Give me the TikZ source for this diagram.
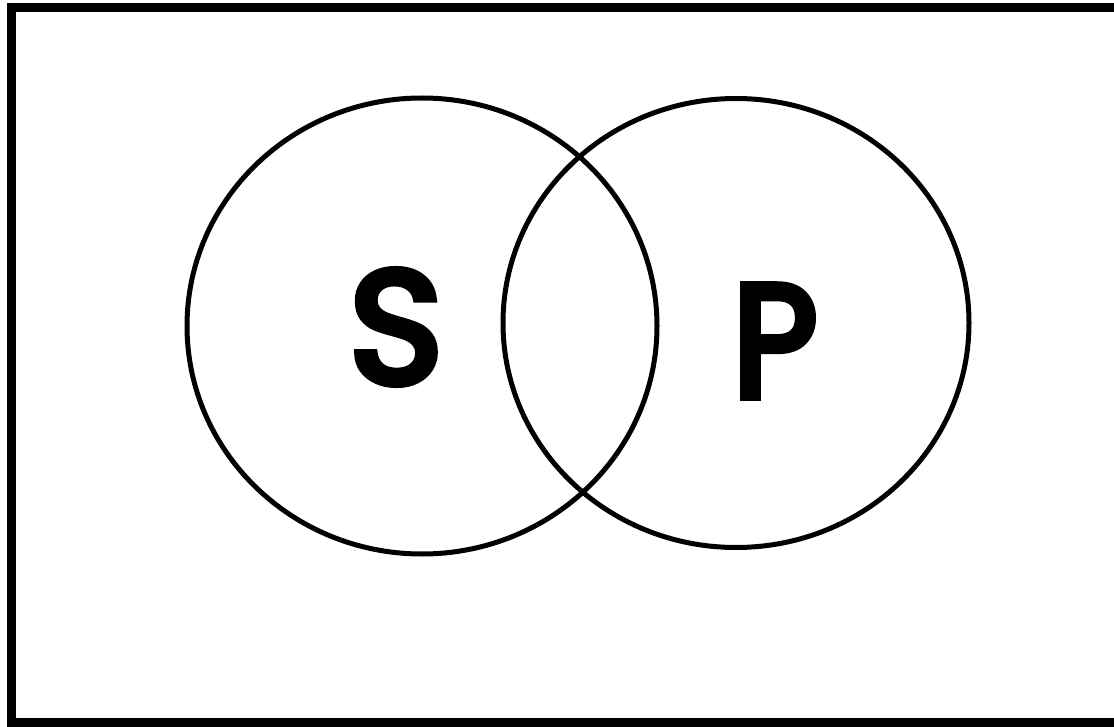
\documentclass[tikz,border=0pt]{standalone}
\usepackage{fontspec}
\setmainfont{Poppins}
\newfontfamily\setfont[FakeBold=5]{Poppins}
\usepackage{tikz}
\usetikzlibrary{shapes.geometric}

\begin{document}
\begin{tikzpicture}[
  x=1pt,y=-1pt,
  frame/.style={draw=black,line width=9pt},
  setring/.style={draw=black,line width=5pt,ellipse,inner sep=0pt},
  setname/.style={font=\setfont\fontsize{160}{160}\selectfont,inner sep=0pt}
]
\useasboundingbox (0,0) rectangle (1114,727);
\draw[frame] (11.5,7.5) rectangle (1130,722);
\node[setring,minimum width=470pt,minimum height=456pt] (Sset) at (422,326) {};
\node[setring,minimum width=466pt,minimum height=449pt] (Pset) at (736,323) {};
\node[setname] (Slabel) at (396,327) {S};
\node[setname,xscale=0.92] (Plabel) at (775,341) {P};
\end{tikzpicture}
\end{document}
